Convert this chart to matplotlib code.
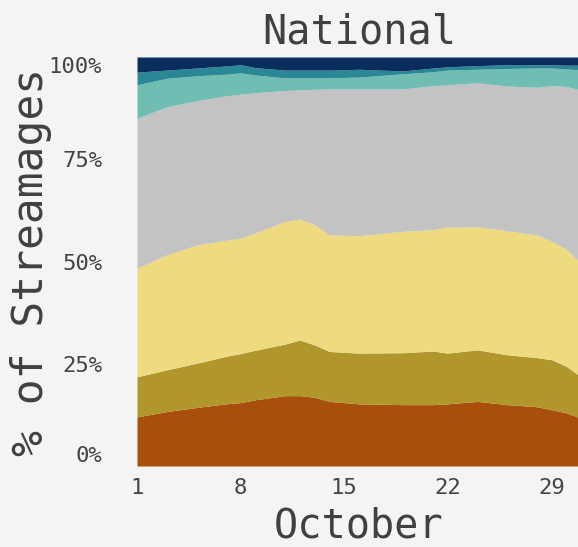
import matplotlib
matplotlib.use("Agg")
import matplotlib.pyplot as plt
import numpy as np

days = [1, 3, 5, 7, 8, 9, 11, 12, 13, 14, 16, 19, 21, 22, 24, 26, 28, 29, 30, 31]

# cumulative boundaries (%), bottom to top
top_orange = [12.0, 13.3, 14.3, 15.2, 15.5, 16.2, 17.2, 17.2, 16.8, 15.8, 15.2, 15.0, 15.0, 15.2, 15.8, 15.0, 14.5, 13.8, 13.0, 11.7]
top_olive = [21.8, 23.5, 25.1, 26.8, 27.5, 28.3, 29.8, 30.8, 29.6, 28.0, 27.6, 27.7, 28.1, 27.6, 28.4, 27.2, 26.5, 26.0, 24.4, 21.8]
top_yellow = [48.4, 51.6, 54.0, 55.2, 55.7, 57.0, 59.8, 60.4, 59.0, 56.5, 56.3, 57.4, 57.8, 58.4, 58.5, 57.5, 56.5, 55.0, 53.0, 49.6]
top_gray = [85.0, 87.8, 89.3, 90.5, 90.9, 91.3, 91.8, 92.0, 92.1, 92.2, 92.2, 92.2, 93.0, 93.2, 93.7, 92.9, 92.6, 93.0, 92.8, 91.9]
top_lteal = [93.2, 94.8, 95.4, 95.8, 96.1, 95.6, 94.9, 94.9, 94.9, 94.9, 95.1, 95.9, 96.4, 96.8, 97.0, 97.2, 97.3, 97.3, 97.1, 96.8]
top_teal = [96.3, 96.8, 97.3, 97.8, 98.1, 97.4, 96.8, 96.8, 96.8, 96.8, 97.0, 96.6, 97.3, 97.6, 97.9, 98.1, 98.1, 98.1, 98.0, 98.0]
top_navy = [100.0] * 20

bounds = [top_orange, top_olive, top_yellow, top_gray, top_lteal, top_teal, top_navy]
colors = ["#a84f0b", "#b0962b", "#eedb80", "#c3c3c3", "#6fbdb3", "#2b8795", "#0a2d5e"]

ytick_vals = [0, 25, 50, 75, 100]
ytick_labels = ["0%", "25%", "50%", "75%", "100%"]
xtick_vals = [1, 8, 15, 22, 29]

bg = "#f4f4f4"
fig = plt.figure(figsize=(5.78, 5.47), dpi=100, facecolor=bg)
ax = fig.add_axes([137 / 578, 81 / 547, 444 / 578, 409 / 547])
ax.set_facecolor(bg)

prev = np.zeros(len(days))
for b, c in zip(bounds, colors):
    b = np.array(b, dtype=float)
    ax.fill_between(days, prev, b, color=c, linewidth=0)
    prev = b

ax.set_xlim(1, 31)
ax.set_ylim(0, 100)
for s in ax.spines.values():
    s.set_visible(False)
ax.set_yticks(ytick_vals)
ax.set_yticklabels(ytick_labels)
ax.set_xticks(xtick_vals)
ax.set_xticklabels([str(d) for d in xtick_vals])
ax.tick_params(length=0, labelsize=16, labelcolor="#444444")
ax.tick_params(axis="x", pad=9)
ax.tick_params(axis="y", pad=25)
for lbl in ax.get_xticklabels() + ax.get_yticklabels():
    lbl.set_family("DejaVu Sans Mono")
ylbls = ax.get_yticklabels()
ylbls[0].set_va("bottom")
ylbls[-1].set_va("top")

ax.set_title("National", family="DejaVu Sans Mono", fontsize=29, color="#404040", pad=10)
ax.set_xlabel("October", family="DejaVu Sans Mono", fontsize=29, color="#404040", labelpad=6)
ax.set_ylabel("% of Streamages", family="DejaVu Sans Mono", fontsize=31, color="#404040", labelpad=-2)

fig.savefig("out.png", dpi=100, facecolor=bg)
